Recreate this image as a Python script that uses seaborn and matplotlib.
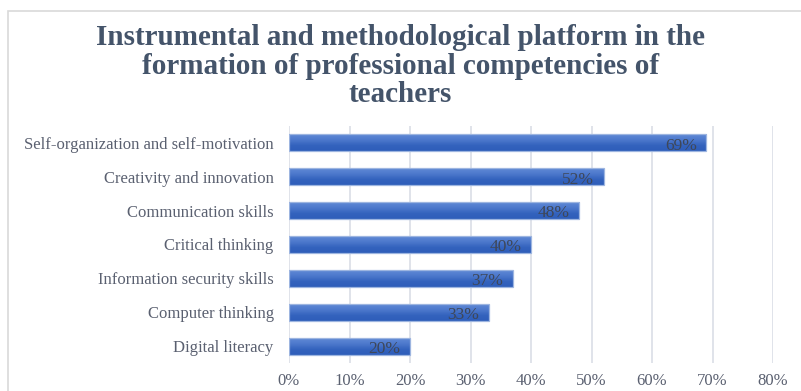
import matplotlib
matplotlib.use("Agg")
import matplotlib.pyplot as plt
import seaborn as sns
import pandas as pd
import numpy as np
from matplotlib.patches import Rectangle
from matplotlib.colors import LinearSegmentedColormap

categories = ["Self-organization and self-motivation", "Creativity and innovation",
              "Communication skills", "Critical thinking", "Information security skills",
              "Computer thinking", "Digital literacy"]
values = [0.69, 0.52, 0.48, 0.40, 0.37, 0.33, 0.20]
xticks = [0, 0.1, 0.2, 0.3, 0.4, 0.5, 0.6, 0.7, 0.8]
xticklabels = ["0%", "10%", "20%", "30%", "40%", "50%", "60%", "70%", "80%"]
title = "Instrumental and methodological platform in the\nformation of professional competencies of\nteachers"

sns.set_theme(style="white")
plt.rcParams['font.family'] = ['Liberation Serif', 'DejaVu Serif']

df = pd.DataFrame({"cat": categories, "val": values})

fig = plt.figure(figsize=(8.01, 3.91), dpi=100)
fig.patch.set_facecolor("white")
fig.patches.append(Rectangle((8/801, -0.05), 1.1, 1 - 11/391 + 0.05, transform=fig.transFigure,
                             fill=False, edgecolor="#D9D9D9", linewidth=1.2))
ax = fig.add_axes([289/801, 1 - 363/391, (773 - 289)/801, (363 - 126)/391])

sns.barplot(data=df, x="val", y="cat", ax=ax, color="#3F6CC4", width=0.5,
            edgecolor="#9DB5E0", linewidth=0.9, saturation=1, zorder=3)

# vertical gradient fill clipped to each bar
cmap = LinearSegmentedColormap.from_list("g", ["#6089D6", "#4D79CC", "#3463BE", "#2E5DB9"])
grad = np.linspace(0, 1, 64).reshape(-1, 1)
for p in list(ax.patches):
    x0, y0 = p.get_x(), p.get_y()
    w, h = p.get_width(), p.get_height()
    im = ax.imshow(grad, cmap=cmap, aspect="auto", extent=(x0, x0 + w, y0 + h, y0),
                   origin="upper", zorder=3.5)
    im.set_clip_path(p)
    p.set_zorder(4)
    p.set_facecolor("none")

ax.set_xlim(0, 0.8)
ax.set_ylim(6.5, -0.5)
ax.set_xticks(xticks)
ax.set_xticklabels(xticklabels, fontsize=12, color="#5A6070")
ax.tick_params(axis="y", labelsize=12, labelcolor="#5A6070", length=0, pad=11)
ax.tick_params(axis="x", length=0, pad=7)
ax.set_xlabel("")
ax.set_ylabel("")
for s in ax.spines.values():
    s.set_visible(False)
ax.grid(axis="x", color="#DDE1E8", linewidth=1.3, zorder=0)
ax.set_axisbelow(True)

for i, v in enumerate(values):
    ax.annotate(f"{int(round(v*100))}%", xy=(v, i), xytext=(-7, -2), textcoords="offset points",
                ha="right", va="center", fontsize=12.5, color="#3E4759", zorder=5)

fig.text(0.5, 1 - 66/391, title, ha="center", va="center", fontsize=21, fontweight="bold",
         color="#44546A", linespacing=1.09)

fig.savefig("out.png", dpi=100)
